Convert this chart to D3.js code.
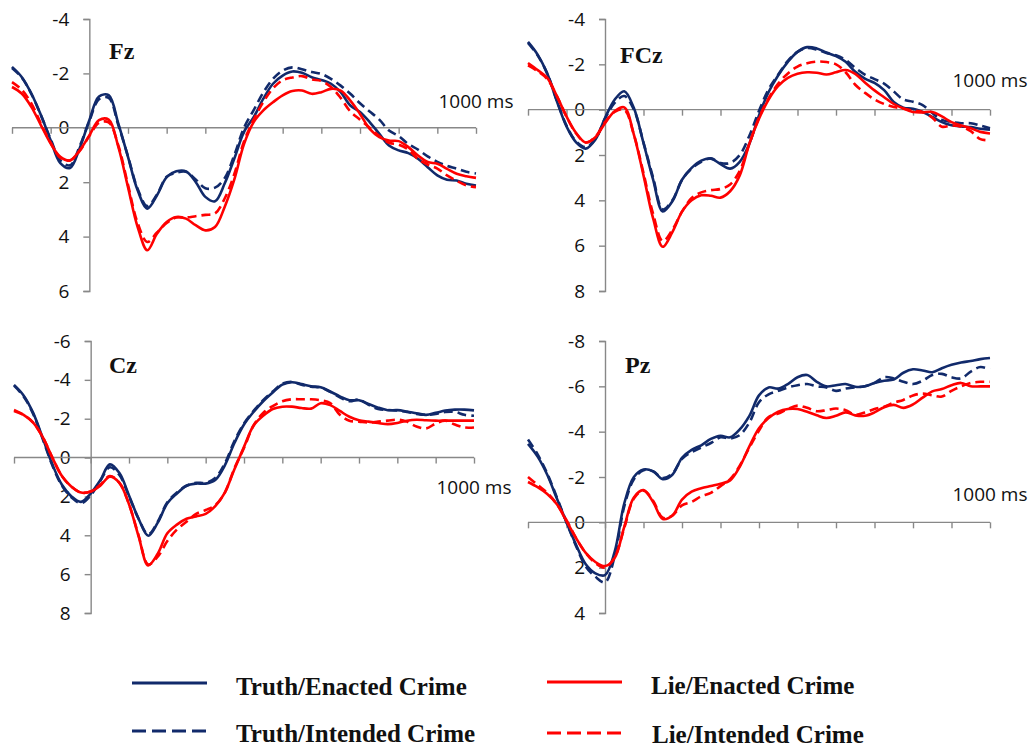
<!DOCTYPE html>
<html>
<head>
<meta charset="utf-8">
<script src="https://cdn.jsdelivr.net/npm/d3@7/dist/d3.min.js"></script>
<style>
  html, body { margin: 0; padding: 0; background: #fff; }
  svg { display: block; }
</style>
</head>
<body>
<svg id="chart" width="1036" height="748"></svg>
<script>
// ---------- DATA ----------
const times = [-200,-175,-150,-125,-100,-75,-50,-25,0,25,50,75,100,125,150,175,200,225,250,275,300,325,350,375,400,425,450,475,500,525,550,575,600,625,650,675,700,725,750,775,800,825,850,875,900,925,950,975,1000];

const seriesNames = ["Truth/Enacted Crime", "Lie/Enacted Crime", "Truth/Intended Crime", "Lie/Intended Crime"];
const electrodes = ["Fz", "FCz", "Cz", "Pz"];
const xLabel = "1000 ms";

const fzTruthEnacted = [-2.24,-1.87,-1.26,-0.46,0.46,1.3,1.48,0.75,-0.28,-1.15,-1.2,-0.15,1.07,2.3,2.97,2.48,1.81,1.6,1.6,1.99,2.54,2.7,2.05,1.13,0.15,-0.39,-1.07,-1.62,-1.92,-2.07,-2.02,-1.86,-1.76,-1.62,-1.31,-0.82,-0.58,-0.21,0.22,0.65,0.83,0.93,1.14,1.45,1.75,1.91,1.94,2.06,2.12];
const fzTruthIntended = [-2.2,-1.85,-1.25,-0.45,0.42,1.2,1.38,0.68,-0.25,-1.05,-1.1,-0.1,1.05,2.25,2.88,2.45,1.8,1.65,1.62,1.9,2.22,2.2,1.85,1.0,0.0,-0.65,-1.3,-1.8,-2.1,-2.22,-2.15,-2.05,-1.98,-1.8,-1.55,-1.25,-0.9,-0.6,-0.3,0.1,0.3,0.6,0.8,1.05,1.25,1.4,1.5,1.62,1.68];
const fzLieEnacted = [-1.5,-1.26,-0.77,-0.09,0.58,1.07,1.2,0.83,0.28,-0.28,-0.3,0.7,2.18,3.65,4.5,3.89,3.46,3.28,3.34,3.58,3.77,3.65,2.91,1.9,0.6,-0.21,-0.64,-0.94,-1.19,-1.35,-1.37,-1.25,-1.31,-1.43,-1.37,-1.0,-0.51,0.04,0.34,0.47,0.49,0.71,1.02,1.26,1.32,1.51,1.69,1.78,1.84];
const fzLieIntended = [-1.68,-1.4,-0.9,-0.15,0.55,1.1,1.2,0.85,0.3,-0.18,-0.2,0.65,2.1,3.5,4.2,3.85,3.5,3.3,3.3,3.25,3.2,3.15,2.6,1.7,0.5,-0.3,-0.95,-1.45,-1.75,-1.85,-1.9,-1.78,-1.72,-1.5,-1.1,-0.6,-0.3,0.0,0.3,0.55,0.62,0.8,1.15,1.35,1.5,1.75,1.95,2.12,2.18];

const fczTruthEnacted = [-2.99,-2.43,-1.59,-0.37,0.74,1.44,1.72,1.32,0.37,-0.44,-0.81,-0.07,1.47,3.09,4.49,4.04,3.09,2.57,2.25,2.16,2.4,2.6,2.3,1.5,0.25,-0.78,-1.52,-2.11,-2.55,-2.76,-2.7,-2.52,-2.36,-2.11,-1.67,-1.37,-1.18,-0.86,-0.34,-0.09,-0.04,0.1,0.32,0.55,0.69,0.74,0.77,0.84,0.88];
const fczTruthIntended = [-2.95,-2.4,-1.6,-0.4,0.7,1.4,1.65,1.3,0.4,-0.3,-0.6,0.0,1.45,3.0,4.4,4.0,3.1,2.6,2.3,2.15,2.35,2.35,2.0,1.15,0.05,-0.9,-1.55,-2.15,-2.55,-2.72,-2.65,-2.5,-2.4,-2.2,-1.85,-1.55,-1.35,-1.15,-0.8,-0.45,-0.35,-0.2,0.15,0.45,0.55,0.6,0.6,0.7,0.82];
const fczLieEnacted = [-2.06,-1.75,-1.4,-0.6,0.3,1.03,1.45,1.22,0.6,0.07,-0.1,1.1,2.9,4.8,6.05,5.4,4.5,4.0,3.78,3.8,3.88,3.6,2.9,1.5,0.4,-0.45,-1.05,-1.4,-1.58,-1.65,-1.63,-1.55,-1.65,-1.75,-1.58,-1.2,-0.85,-0.55,-0.25,-0.05,0.1,0.12,0.1,0.3,0.55,0.7,0.82,0.98,1.05];
const fczLieIntended = [-1.95,-1.7,-1.35,-0.6,0.3,1.05,1.45,1.2,0.55,0.1,0.0,1.1,2.8,4.6,5.8,5.3,4.5,3.9,3.65,3.55,3.5,3.3,2.7,1.5,0.35,-0.5,-1.15,-1.6,-1.9,-2.05,-2.12,-2.1,-2.0,-1.65,-1.1,-0.75,-0.45,-0.25,-0.12,-0.05,0.05,0.1,0.35,0.75,0.7,0.75,0.95,1.3,1.35];

const czTruthEnacted = [-3.74,-3.2,-2.3,-1.0,0.35,1.4,2.0,2.28,1.85,1.17,0.35,0.8,1.95,3.15,4.02,3.35,2.35,1.85,1.45,1.34,1.34,1.15,0.4,-0.75,-1.7,-2.35,-2.9,-3.35,-3.75,-3.88,-3.78,-3.67,-3.62,-3.4,-3.15,-2.95,-2.95,-2.76,-2.57,-2.44,-2.44,-2.37,-2.28,-2.2,-2.3,-2.42,-2.47,-2.47,-2.43];
const czTruthIntended = [-3.7,-3.15,-2.25,-0.95,0.4,1.45,2.05,2.35,1.95,1.2,0.5,0.9,2.0,3.15,3.95,3.3,2.3,1.8,1.45,1.3,1.3,1.05,0.3,-0.85,-1.75,-2.4,-2.95,-3.4,-3.8,-3.9,-3.75,-3.65,-3.6,-3.38,-3.1,-2.9,-2.98,-2.72,-2.5,-2.45,-2.42,-2.35,-2.25,-2.2,-2.25,-2.35,-2.35,-2.2,-2.15];
const czLieEnacted = [-2.45,-2.2,-1.8,-1.05,0.0,0.95,1.5,1.8,1.75,1.45,0.98,1.3,2.4,4.05,5.55,4.95,3.9,3.45,3.15,3.03,2.9,2.5,1.8,0.6,-0.55,-1.65,-2.15,-2.5,-2.62,-2.62,-2.55,-2.52,-2.8,-2.7,-2.4,-2.1,-1.92,-1.85,-1.78,-1.72,-1.78,-1.9,-1.95,-1.92,-1.9,-1.9,-1.9,-1.9,-1.9];
const czLieIntended = [-2.4,-2.2,-1.8,-1.05,0.0,0.95,1.5,1.8,1.75,1.4,0.95,1.3,2.4,4.0,5.5,5.1,4.3,3.7,3.3,2.9,2.7,2.45,1.8,0.55,-0.5,-1.65,-2.3,-2.65,-2.9,-3.0,-3.0,-3.0,-2.95,-2.8,-2.2,-1.9,-1.85,-1.8,-1.85,-1.9,-1.95,-1.85,-1.6,-1.5,-1.75,-1.9,-1.7,-1.55,-1.55];

const pzTruthEnacted = [-3.46,-2.9,-2.1,-1.05,0.0,1.0,1.85,2.25,2.33,1.3,-0.83,-2.0,-2.33,-2.25,-1.9,-2.1,-2.85,-3.2,-3.4,-3.68,-3.82,-3.75,-4.1,-4.7,-5.6,-5.95,-5.9,-6.1,-6.4,-6.5,-6.2,-6.0,-6.05,-6.1,-5.98,-6.0,-6.15,-6.25,-6.3,-6.6,-6.75,-6.7,-6.62,-6.8,-6.95,-7.05,-7.12,-7.2,-7.25];
const pzTruthIntended = [-3.65,-3.0,-2.15,-1.1,0.0,1.05,1.95,2.4,2.65,1.5,-0.7,-1.9,-2.3,-2.25,-1.95,-2.15,-2.8,-3.1,-3.3,-3.5,-3.75,-3.7,-3.85,-4.4,-5.3,-5.65,-5.8,-5.95,-6.05,-6.1,-6.0,-5.95,-5.8,-5.9,-5.95,-6.0,-6.15,-6.4,-6.35,-6.2,-6.1,-6.25,-6.5,-6.55,-6.4,-6.35,-6.65,-6.85,-6.75];
const pzLieEnacted = [-1.78,-1.55,-1.25,-0.8,-0.05,0.7,1.35,1.75,1.93,1.58,0.2,-1.1,-1.42,-0.9,-0.15,-0.3,-1.0,-1.35,-1.5,-1.6,-1.7,-1.85,-2.45,-3.35,-4.15,-4.6,-4.88,-5.0,-5.0,-4.88,-4.72,-4.6,-4.7,-4.85,-4.72,-4.7,-4.85,-5.08,-5.18,-5.05,-5.2,-5.5,-5.78,-5.88,-6.05,-6.15,-6.0,-6.0,-6.0];
const pzLieIntended = [-2.0,-1.65,-1.3,-0.8,-0.1,0.7,1.35,1.8,2.0,1.55,0.25,-1.05,-1.4,-0.95,-0.2,-0.3,-0.75,-0.9,-1.15,-1.3,-1.6,-1.9,-2.5,-3.3,-4.05,-4.65,-4.8,-5.0,-5.15,-5.05,-4.9,-4.95,-5.02,-4.95,-4.75,-4.85,-5.0,-5.1,-5.28,-5.4,-5.6,-5.68,-5.6,-5.55,-5.8,-6.0,-6.15,-6.2,-6.2];

const fzTicks = [-4,-2,0,2,4,6];
const fczTicks = [-4,-2,0,2,4,6,8];
const czTicks = [-6,-4,-2,0,2,4,6,8];
const pzTicks = [-8,-6,-4,-2,0,2,4];
const timeTicks = [-200,-100,0,100,200,300,400,500,600,700,800,900,1000];

// ---------- LAYOUT / STYLE ----------
const NAVY = "#112a6b", RED = "#ff0000", AXIS = "#888888";
const styles = [
  {color: NAVY, dash: null},     // Truth/Enacted
  {color: RED,  dash: null},     // Lie/Enacted
  {color: NAVY, dash: "9,5"},    // Truth/Intended
  {color: RED,  dash: "9,5"}     // Lie/Intended
];
const drawOrder = [0, 2, 1, 3];

const panels = [
  {name: electrodes[0], data: [fzTruthEnacted, fzLieEnacted, fzTruthIntended, fzLieIntended], ticks: fzTicks,
   xr: [12, 476], yr: [19, 291], title: [109, 59], msY: 101},
  {name: electrodes[1], data: [fczTruthEnacted, fczLieEnacted, fczTruthIntended, fczLieIntended], ticks: fczTicks,
   xr: [528, 990], yr: [19, 291], title: [620, 63], msY: 80},
  {name: electrodes[2], data: [czTruthEnacted, czLieEnacted, czTruthIntended, czLieIntended], ticks: czTicks,
   xr: [14, 474], yr: [341, 613], title: [109, 373], msY: 487},
  {name: electrodes[3], data: [pzTruthEnacted, pzLieEnacted, pzTruthIntended, pzLieIntended], ticks: pzTicks,
   xr: [528, 990], yr: [341, 613], title: [625, 373], msY: 494}
];

const svg = d3.select("#chart");

panels.forEach(p => {
  const x = d3.scaleLinear().domain([-200, 1000]).range(p.xr);
  const y = d3.scaleLinear().domain([p.ticks[0], p.ticks[p.ticks.length - 1]]).range(p.yr);
  const g = svg.append("g");

  // y axis
  const yAxis = d3.axisLeft(y).tickValues(p.ticks).tickSize(6).tickPadding(14).tickFormat(d => String(d));
  const ya = g.append("g").attr("transform", `translate(${x(0)},0)`).call(yAxis);
  ya.select(".domain").attr("stroke", AXIS).attr("stroke-width", 1.4);
  ya.selectAll(".tick line").attr("stroke", AXIS).attr("stroke-width", 1.4);
  ya.selectAll(".tick text").attr("font-family", "'Open Sans', sans-serif").attr("font-size", "19px").attr("fill", "#111");

  // x axis (zero line)
  const xAxis = d3.axisBottom(x).tickValues(timeTicks).tickSize(6).tickFormat("");
  const xa = g.append("g").attr("transform", `translate(0,${y(0)})`).call(xAxis);
  xa.select(".domain").attr("stroke", AXIS).attr("stroke-width", 1.4).attr("d", `M${p.xr[0]},0H${p.xr[1]}`);
  xa.selectAll(".tick line").attr("stroke", AXIS).attr("stroke-width", 1.4);

  // 1000 ms label
  g.append("text").attr("x", x(1000)).attr("y", p.msY).attr("text-anchor", "middle")
    .attr("dominant-baseline", "central")
    .attr("font-family", "'Open Sans', sans-serif").attr("font-size", "19px").attr("fill", "#111").text(xLabel);

  // title
  g.append("text").attr("x", p.title[0]).attr("y", p.title[1])
    .attr("font-family", "'Liberation Serif', 'Times New Roman', serif").attr("font-weight", "bold")
    .attr("font-size", "24px").attr("fill", "#111").text(p.name);

  // lines
  const line = d3.line().x((d, i) => x(times[i])).y(d => y(d)).curve(d3.curveCatmullRom.alpha(0.5));
  drawOrder.forEach(si => {
    g.append("path").datum(p.data[si]).attr("d", line)
      .attr("fill", "none").attr("stroke", styles[si].color).attr("stroke-width", 2.6)
      .attr("stroke-linejoin", "round")
      .attr("stroke-dasharray", styles[si].dash);
  });
});

// ---------- LEGEND ----------
const legendPos = [
  {lx: [132, 207], ly: 683, tx: 236, ty: 695},   // Truth/Enacted
  {lx: [547, 622], ly: 682, tx: 651, ty: 694},   // Lie/Enacted
  {lx: [132, 207], ly: 731, tx: 236, ty: 742},   // Truth/Intended
  {lx: [547, 622], ly: 733, tx: 652, ty: 743}    // Lie/Intended
];
const lg = svg.append("g");
seriesNames.forEach((name, i) => {
  const lp = legendPos[i];
  lg.append("line").attr("x1", lp.lx[0]).attr("x2", lp.lx[1]).attr("y1", lp.ly).attr("y2", lp.ly)
    .attr("stroke", styles[i].color).attr("stroke-width", 3.2)
    .attr("stroke-dasharray", styles[i].dash ? "14,6" : null);
  lg.append("text").attr("x", lp.tx).attr("y", lp.ty)
    .attr("font-family", "'Liberation Serif', 'Times New Roman', serif").attr("font-weight", "bold")
    .attr("font-size", "25px").attr("fill", "#111").text(name);
});
</script>
</body>
</html>
